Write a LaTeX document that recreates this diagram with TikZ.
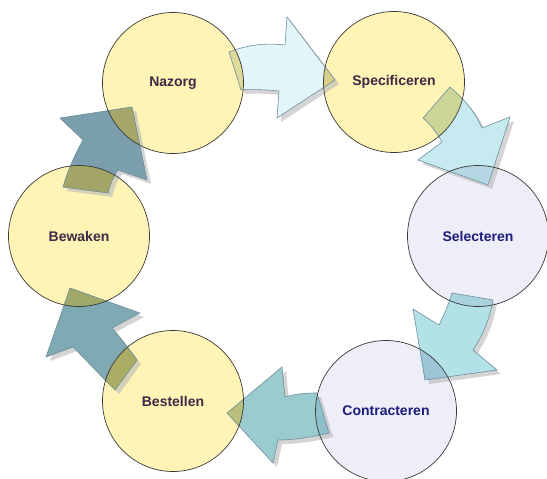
\documentclass[tikz,border=0pt]{standalone}
\usepackage{fontspec}
\setmainfont{Liberation Sans}
\definecolor{cyel}{HTML}{FFF4B5}
\definecolor{clav}{HTML}{EEEEF8}
\definecolor{txtyel}{HTML}{3C2A45}
\definecolor{txtlav}{HTML}{1C1C7C}
\definecolor{cline}{HTML}{3A3A3A}
\definecolor{aline}{HTML}{6E8E9C}
\definecolor{ashadow}{HTML}{B8B8B8}
\definecolor{fA}{HTML}{E2F5F9}
\definecolor{fB}{HTML}{C6EAF0}
\definecolor{fC}{HTML}{B2E2E8}
\definecolor{fD}{HTML}{9ACBCF}
\definecolor{fE}{HTML}{7FA9B3}
\definecolor{fF}{HTML}{7B9FAC}
\definecolor{oA1}{HTML}{DEDA9A}
\definecolor{oA2}{HTML}{D9D08A}
\definecolor{oB1}{HTML}{CCD496}
\definecolor{oB2}{HTML}{B5D8E4}
\definecolor{oC1}{HTML}{A8D2DE}
\definecolor{oC2}{HTML}{9CC6D6}
\definecolor{oD1}{HTML}{8EBFCB}
\definecolor{oD2}{HTML}{BABF7C}
\definecolor{oE1}{HTML}{A9AC62}
\definecolor{oE2}{HTML}{A0A86A}
\definecolor{oF1}{HTML}{A2A566}
\definecolor{oF2}{HTML}{A5A66A}
\def\arrowshpA{(229,52) .. controls (250,44) and (268,43) .. (285,45) -- (287,17) -- (335,80) -- (277,118) -- (279,91) .. controls (268,90) and (255,89) .. (241,90) -- cycle}
\def\arrowshpB{(450,87) .. controls (465,100) and (475,112) .. (482,128) -- (510,117) -- (488,185) -- (418,160) -- (442,142) .. controls (437,133) and (431,125) .. (423,118) -- cycle}
\def\arrowshpC{(493,300) .. controls (490,318) and (483,335) .. (473,350) -- (497,370) -- (425,380) -- (413,309) -- (439,325) .. controls (445,313) and (449,303) .. (452,293) -- cycle}
\def\arrowshpD{(317,393) .. controls (306,393) and (295,394) .. (285,397) -- (282,367) -- (227,413) -- (273,463) -- (278,440) .. controls (295,440) and (312,437) .. (329,433) -- cycle}
\def\arrowshpE{(137,360) .. controls (128,348) and (120,337) .. (112,328) -- (140,313) -- (70,288) -- (46,357) -- (73,347) .. controls (86,360) and (100,375) .. (115,390) -- cycle}
\def\arrowshpF{(63,187) .. controls (68,170) and (75,154) .. (83,140) -- (60,118) -- (132,107) -- (147,180) -- (118,170) .. controls (113,177) and (110,185) .. (108,193) -- cycle}
\tikzset{
  phase/.style={circle, minimum size=141pt, inner sep=0pt, font=\fontsize{14}{16}\selectfont\bfseries},
  yelphase/.style={phase, fill=cyel, text=txtyel},
  lavphase/.style={phase, fill=clav, text=txtlav},
  ring/.style={draw=cline, line width=0.7pt},
  blockshadow/.style={fill=ashadow, fill opacity=0.6, shift={(4,4)}},
  blockline/.style={draw=aline, line width=0.6pt, line join=miter}
}
\begin{document}
\begin{tikzpicture}[x=1pt,y=-1pt]
\useasboundingbox[fill=white] (0,0) rectangle (547,479);
% circle fills
\node[yelphase] (nazorg) at (173,83) {};
\node[yelphase] (spec) at (394,82) {};
\node[lavphase] (selec) at (478,236) {};
\node[lavphase] (contr) at (386,411) {};
\node[yelphase] (best) at (173,401) {};
\node[yelphase] (bewa) at (79,236) {};
% shadows
\fill[blockshadow] \arrowshpA;
\fill[blockshadow] \arrowshpB;
\fill[blockshadow] \arrowshpC;
\fill[blockshadow] \arrowshpD;
\fill[blockshadow] \arrowshpE;
\fill[blockshadow] \arrowshpF;
% arrow fills
\fill[fA] \arrowshpA;
\fill[fB] \arrowshpB;
\fill[fC] \arrowshpC;
\fill[fD] \arrowshpD;
\fill[fE] \arrowshpE;
\fill[fF] \arrowshpF;
% overlaps
\begin{scope}\clip (nazorg.center) circle[radius=70.5pt]; \fill[oA1] \arrowshpA; \fill[oF2] \arrowshpF; \end{scope}
\begin{scope}\clip (spec.center) circle[radius=70.5pt]; \fill[oA2] \arrowshpA; \fill[oB1] \arrowshpB; \end{scope}
\begin{scope}\clip (selec.center) circle[radius=70.5pt]; \fill[oB2] \arrowshpB; \fill[oC1] \arrowshpC; \end{scope}
\begin{scope}\clip (contr.center) circle[radius=70.5pt]; \fill[oC2] \arrowshpC; \fill[oD1] \arrowshpD; \end{scope}
\begin{scope}\clip (best.center) circle[radius=70.5pt]; \fill[oD2] \arrowshpD; \fill[oE1] \arrowshpE; \end{scope}
\begin{scope}\clip (bewa.center) circle[radius=70.5pt]; \fill[oE2] \arrowshpE; \fill[oF1] \arrowshpF; \end{scope}
% arrow outlines
\draw[blockline] \arrowshpA;
\draw[blockline] \arrowshpB;
\draw[blockline] \arrowshpC;
\draw[blockline] \arrowshpD;
\draw[blockline] \arrowshpE;
\draw[blockline] \arrowshpF;
% circle outlines and labels
\node[phase, ring, text=txtyel] at (nazorg.center) {Nazorg};
\node[phase, ring, text=txtyel] at (spec.center) {Specificeren};
\node[phase, ring, text=txtlav] at (selec.center) {Selecteren};
\node[phase, ring, text=txtlav] at (contr.center) {Contracteren};
\node[phase, ring, text=txtyel] at (best.center) {Bestellen};
\node[phase, ring, text=txtyel] at (bewa.center) {Bewaken};
\end{tikzpicture}
\end{document}
